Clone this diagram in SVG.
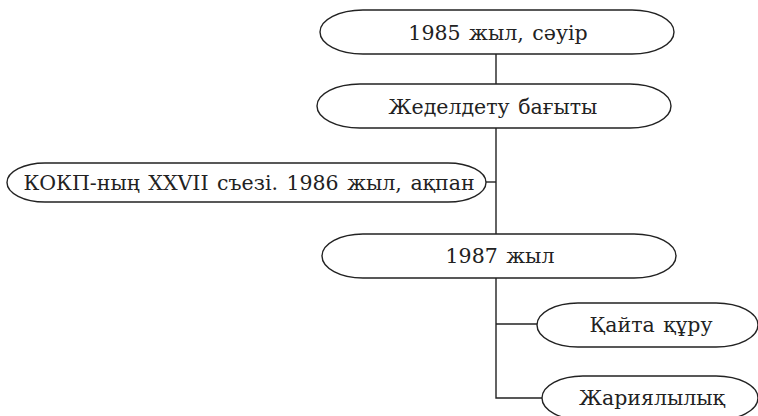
<svg xmlns="http://www.w3.org/2000/svg" width="758" height="416" viewBox="0 0 758 416">
<style>
.n{fill:#fff;stroke:#222;stroke-width:1.4}
.t{font-family:"DejaVu Serif","Liberation Serif",serif;font-size:20.5px;fill:#222;text-anchor:middle;word-spacing:2px}
.c{stroke:#222;stroke-width:1.4;fill:none}
</style>
<rect width="758" height="416" fill="#fff"/>
<g id="connectors">
<line class="c" x1="496" y1="54" x2="496" y2="84"/>
<line class="c" x1="496" y1="128" x2="496" y2="234"/>
<line class="c" x1="486" y1="182" x2="496" y2="182"/>
<polyline class="c" points="496,278 496,398 542,398"/>
<line class="c" x1="496" y1="324" x2="537" y2="324"/>
</g>
<g id="n1">
<path class="n" d="M363,10 H632 A42,22 0 0 1 632,54 H363 A43,22 0 0 1 363,10 Z"/>
<text class="t" x="498" y="40">1985 жыл, сәуір</text>
</g>
<g id="n2">
<path class="n" d="M360,84 H630 A41,22 0 0 1 630,128 H360 A43,22 0 0 1 360,84 Z"/>
<text class="t" x="493" y="114">Жеделдету бағыты</text>
</g>
<g id="n3">
<path class="n" d="M45,163 H448 A38,19.5 0 0 1 448,202 H45 A38,19.5 0 0 1 45,163 Z"/>
<text class="t" x="249" y="190">КОКП-ның XXVII съезі. 1986 жыл, ақпан</text>
</g>
<g id="n4">
<path class="n" d="M363,234 H634 A42,22 0 0 1 634,278 H363 A41,22 0 0 1 363,234 Z"/>
<text class="t" x="500" y="263">1987 жыл</text>
</g>
<g id="n5">
<path class="n" d="M578,303 H716 A42,22 0 0 1 716,347 H578 A41,22 0 0 1 578,303 Z"/>
<text class="t" x="651" y="332">Қайта құру</text>
</g>
<g id="n6">
<path class="n" d="M583,376 H716 A42,22 0 0 1 716,420 H583 A41,22 0 0 1 583,376 Z"/>
<text class="t" x="652" y="405">Жариялылық</text>
</g>
</svg>
